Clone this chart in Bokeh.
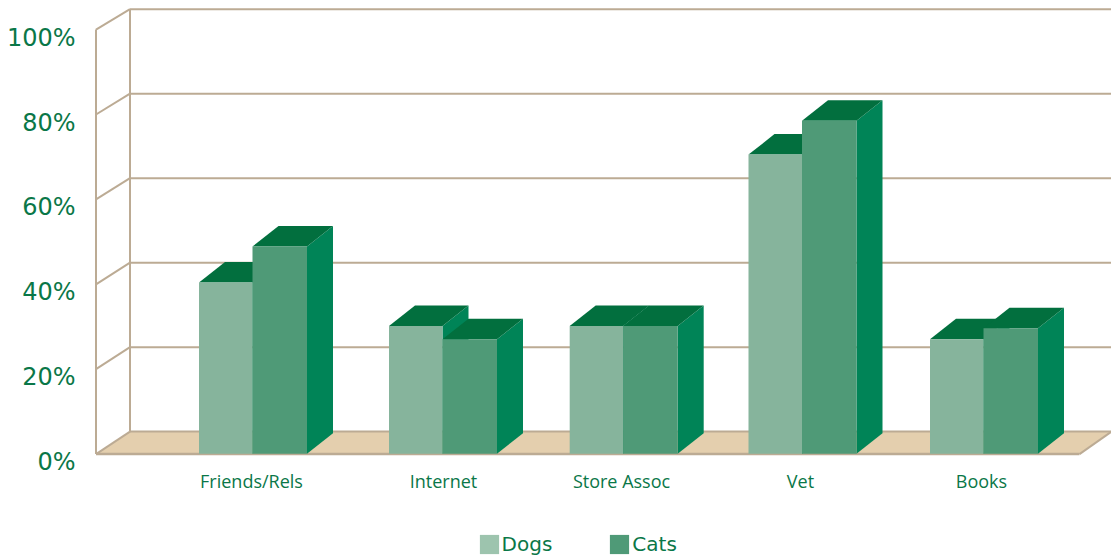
from bokeh.plotting import figure
from bokeh.models import Range1d, LinearAxis, FixedTicker, Legend, LegendItem
from bokeh.embed import file_html
from bokeh.resources import INLINE

categories = ["Friends/Rels", "Internet", "Store Assoc", "Vet", "Books"]
dogs = [40.4, 30.15, 30.15, 70.55, 27.05]
cats = [48.9, 27.05, 30.15, 78.55, 29.65]
grid_values = [0, 20, 40, 60, 80, 100]
tick_labels = ["0%", "20%", "40%", "60%", "80%", "100%"]

# layout (pixel-like x scale, percent y scale)
bar_centers = [252, 442, 622.7, 801.5, 983]
label_centers = [251, 443, 621, 800, 981]
PX = 4.245
ZERO_PX = 453.6
FRAME_L, FRAME_B, AXIS_PX = 90, 555, 460
LEFT, BACK_X, RIGHT_FRONT, RIGHT_BACK = 95.5, 129.5, 1079, 1111
DOG_W, CAT_W, DEPTH_X, DEPTH_Y = 53.5, 54.5, 26, 20.5 / PX
BASE = 0.1

def back(v):
    return v * 0.995 + 5.3

C_DOG, C_CAT, C_SIDE, C_TOP = "#86B49C", "#4F9A77", "#008457", "#026F3E"
C_FLOOR, C_GRID, C_TEXT = "#E4CFAE", "#BCAB94", "#0A7748"
C_DOG_KEY = "#9DC4AE"

y0 = (ZERO_PX - FRAME_B) / PX
y1 = ZERO_PX / PX
p = figure(width=1111, height=555, output_backend="svg", toolbar_location=None,
           x_range=Range1d(FRAME_L, 1111), y_range=Range1d(y0, y1),
           y_axis_location=None, min_border_left=FRAME_L, min_border_right=0,
           min_border_top=0, min_border_bottom=0,
           background_fill_color="white", border_fill_color="white",
           outline_line_color=None)
p.grid.visible = False

shift = 8.0 / PX
p.extra_y_ranges = {"labels": Range1d(y0 + shift, y1 + shift)}
ya = LinearAxis(y_range_name="labels", ticker=FixedTicker(ticks=grid_values),
                major_label_overrides=dict(zip(grid_values, tick_labels)))
ya.axis_line_color = None
ya.major_tick_line_color = None
ya.minor_tick_line_color = None
ya.major_tick_out = 0
ya.major_label_standoff = 15
ya.major_label_text_font = "DejaVu Sans"
ya.major_label_text_font_size = "24px"
ya.major_label_text_color = C_TEXT
p.add_layout(ya, "left")

xa = p.xaxis[0]
xa.fixed_location = (ZERO_PX - AXIS_PX) / PX
xa.ticker = FixedTicker(ticks=label_centers)
xa.major_label_overrides = dict(zip(label_centers, categories))
xa.axis_line_color = None
xa.major_tick_line_color = None
xa.minor_tick_line_color = None
xa.major_tick_out = 0
xa.major_label_standoff = 8
xa.major_label_text_font = "Open Sans"
xa.major_label_text_font_size = "18px"
xa.major_label_text_color = C_TEXT

# floor
p.patch([LEFT, BACK_X, RIGHT_BACK, RIGHT_FRONT], [0, back(0), back(0), 0],
        fill_color=C_FLOOR, line_color=None)

# walls and grid
for v in grid_values:
    p.line([BACK_X, 1111], [back(v), back(v)], line_color=C_GRID, line_width=2)
    p.line([LEFT, BACK_X], [v, back(v)], line_color=C_GRID, line_width=2)
p.line([LEFT, LEFT], [0, 100], line_color=C_GRID, line_width=2)
p.line([BACK_X, BACK_X], [back(0), back(100)], line_color=C_GRID, line_width=2)
p.line([LEFT, RIGHT_FRONT], [0, 0], line_color=C_GRID, line_width=2.5)
p.line([RIGHT_FRONT, RIGHT_BACK], [0, back(0)], line_color=C_GRID, line_width=2)

def boxes(lefts, rights, tops, color):
    side_x = [[r, r + DEPTH_X, r + DEPTH_X, r] for r in rights]
    side_y = [[BASE, BASE + DEPTH_Y, t + DEPTH_Y, t] for t in tops]
    top_x = [[l, l + DEPTH_X, r + DEPTH_X, r] for l, r in zip(lefts, rights)]
    top_y = [[t, t + DEPTH_Y, t + DEPTH_Y, t] for t in tops]
    p.patches(side_x, side_y, fill_color=C_SIDE, line_color=None)
    p.patches(top_x, top_y, fill_color=C_TOP, line_color=None)
    return p.quad(left=lefts, right=rights, top=tops, bottom=[BASE] * len(tops),
                  fill_color=color, line_color=None)

r_dogs = boxes([c - DOG_W for c in bar_centers], bar_centers, dogs, C_DOG)
r_cats = boxes(bar_centers, [c + CAT_W for c in bar_centers], cats, C_CAT)
# zero-area quad: only carries the lighter swatch colour of the legend
r_dogs_key = p.quad(left=[0], right=[0], top=[0], bottom=[0], fill_color=C_DOG_KEY, line_color=None)

legend = Legend(items=[LegendItem(label="Dogs", renderers=[r_dogs_key]),
                       LegendItem(label="Cats", renderers=[r_cats])],
                orientation="horizontal", location=(476.6 - FRAME_L, -1),
                margin=0, padding=0, spacing=55, glyph_width=24, glyph_height=24,
                label_standoff=1, border_line_color=None,
                background_fill_alpha=0,
                label_text_font="DejaVu Sans", label_text_font_size="20px",
                label_text_color=C_TEXT)
p.add_layout(legend, "center")

open("out.html", "w").write(file_html(p, INLINE))
